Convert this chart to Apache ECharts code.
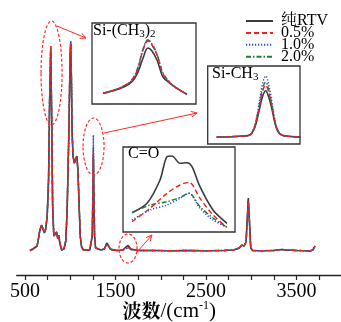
<!DOCTYPE html>
<html><head><meta charset="utf-8">
<script src="https://cdn.jsdelivr.net/npm/echarts@6/dist/echarts.min.js"></script>
<style>html,body{margin:0;padding:0;background:#fff}#c{width:341px;height:322px}</style>
</head><body><div id="c"></div>
<script>
// ---------- main spectrum (wavenumber cm-1 / intensity a.u.) ----------
const wn = [555,588,610,633,648,662,682,700,713,728,
  745,760,772,784,795,805,818,835,850,862,
  872,885,905,930,950,965,985,998,1005,1012,
  1020,1030,1045,1060,1072,1085,1098,1110,1125,1145,
  1180,1215,1232,1243,1250,1255,1260,1268,1280,1300,
  1340,1375,1390,1403,1413,1425,1440,1460,1520,1580,
  1600,1615,1628,1640,1655,1670,1690,1750,1900,2100,
  2300,2500,2700,2800,2840,2865,2895,2920,2942,2956,
  2967,2978,2994,3016,3100,3250,3330,3400,3500,3600,
  3650,3680,3705];
const pureRTV = [0.5,2,3,5,12,20,26,22,18,22,
  35,70,150,201,130,45,15,17,19,12,
  16,8,1,2,10,40,120,195,207,175,
  120,95,88,90,95,80,45,15,4,1,
  1,1,3,15,55,95,60,15,3,1,
  1,2,5,8,9,5,2,1,0.5,1,
  2,4,6,5.5,4,2,1,0.5,0.5,0.3,
  0.5,0.3,0.5,1,2,3,6,5,9,33,
  53,33,3,0.5,0.3,0.5,1.5,1,0.5,0.3,
  0,1,5];
const pct05 = [0.5,2,3,5,12,20,26,22,18,22,
  35,72,155,205,135,46,15,17,19,12,
  16,8,1,2,10,40,121,196,208,176,
  120,95,88,90,95,80,45,15,4,1,
  1,1,3,16,58,100,63,16,3,1,
  1,2,4.5,6.5,7,4,2,1,0.5,1,
  1.5,3,4,4,3,1.5,1,0.5,0.5,0.3,
  0.5,0.3,0.5,1,2,3,6,5,9,32,
  51,32,3,0.5,0.3,0.5,1.5,1,0.5,0.3,
  0,1,5];
const pct10 = [0.5,2,3,5,12,20,26,22,18,22,
  35,72,155,205,135,46,15,17,19,12,
  16,8,1,2,10,40,121,197,209,177,
  120,95,88,90,95,80,45,15,4,1,
  1,1,3,17,65,116,70,17,3,1,
  1,2,4.5,6.5,7,4,2,1,0.5,1,
  1.5,2.5,3,3.5,3,1.5,1,0.5,0.5,0.3,
  0.5,0.3,0.5,1,2,3,6,5,9,32,
  50,32,3,0.5,0.3,0.5,1.5,1,0.5,0.3,
  0,1,5];
const pct20 = [0.5,2,3,5,12,20,26,22,18,22,
  35,72,154,204,134,46,15,17,19,12,
  16,8,1,2,10,40,122,198,211,178,
  120,95,88,90,95,80,45,15,4,1,
  1,1,3,16,60,104,66,16,3,1,
  1,2,4.5,6.5,7,4,2,1,0.5,1,
  1.5,2.5,3,3,2.5,1.5,1,0.5,0.5,0.3,
  0.5,0.3,0.5,1,2,3,6,5,9,32,
  50,32,3,0.5,0.3,0.5,1.5,1,0.5,0.3,
  0,1,5];
const tickLabels = [500,1500,2500,3500];
const tickMarks = [500,750,1000,1250,1500,1750,2000,2250,2500,2750,3000,3250,3500,3750];

// ---------- inset: Si-(CH3)2 ----------
const sicWn = [745,755,765,774,780,785,790,794,799,802,805,812,819,829];
const sicPure = [1.7,4.3,7.7,13.3,23,36.7,47,44,35,26,18,11.7,6.7,0.7];
const sic05 = [1.7,4.5,8.5,15,27,45,54,50,40,30,21,12,6.5,0.7];
const sic10 = [1.7,4.5,8.5,15,27,45,55,50,40,30,21,12,6.5,0.7];
const sic20 = [1.7,4.6,8.7,15.5,28,46,55,51,41,31,22,12.5,6.8,0.7];

// ---------- inset: Si-CH3 ----------
const mWn = [1211,1225,1238,1244,1248,1251,1254,1257,1260,1263,1266,1269,1272,1276,1285,1296];
const mPure = [0,0.3,1,2,7,16,29,41,46.3,40,29,15,6,2,0.5,0];
const m05 = [0,0.3,1,2,7.5,18,32,46,52,45,32,16,6.5,2,0.5,0];
const m10 = [0,0.3,1,2,8,20,37,54,61,52,36,18,7,2,0.5,0];
const m20 = [0,0.3,1,2,8,19,34,49,55,47,33,17,7,2,0.5,0];

// ---------- inset: C=O ----------
const coWnPure = [1609,1624,1637,1644,1649,1657,1664,1669,1677,1690,1704];
const coPure = [19.3,28.7,52,75.3,76,68.7,69.3,65.3,45.3,22,8.7];
const coWn = [1609,1627,1644,1657,1666,1677,1690,1704];
const co05 = [10.3,23.7,38.7,47,49.7,33.7,17,4.7];
const co10 = [12,22,27,33.7,38.7,23.7,12,4.7];
const co20 = [19.3,27,30.3,34.7,38.7,25.3,14,4.7];

const names = ['纯RTV','0.5%','1.0%','2.0%'];
const styles = [
  {color:'#3a3a3a', width:1.6, type:'solid', z:2},
  {color:'#f21d1d', width:1.4, type:[5,3], z:5},
  {color:'#1f4fe0', width:1.5, type:[1.2,1.8], z:4},
  {color:'#1e7d32', width:1.4, type:[5,2,1.5,2], z:3}
];
const SERIF = "'Liberation Serif','Times New Roman','Noto Serif CJK SC','Noto Sans CJK SC',serif";
const CJK = "'Noto Serif CJK SC','Noto Sans CJK SC',serif";

function pairs(xs, ys){ return xs.map((x,i)=>[x, ys[i]]); }
function ser(i, data, axis, smooth){
  const s = styles[i];
  return {name:names[i], type:'line', data, xAxisIndex:axis, yAxisIndex:axis,
    symbol:'none', smooth: smooth, z:s.z, silent:true, animation:false,
    lineStyle:{color:s.color, width:s.width, type:s.type}, itemStyle:{color:s.color}};
}

const mainSets = [pureRTV, pct05, pct10, pct20];
const sicSets = [sicPure, sic05, sic10, sic20];
const mSets = [mPure, m05, m10, m20];
const coSets = [[coWnPure, coPure],[coWn, co05],[coWn, co10],[coWn, co20]];

const series = [];
mainSets.forEach((d,i)=>series.push(ser(i, pairs(wn,d), 0, false)));
sicSets.forEach((d,i)=>series.push(ser(i, pairs(sicWn,d), 1, 0.4)));
mSets.forEach((d,i)=>series.push(ser(i, pairs(mWn,d), 2, 0.4)));
coSets.forEach((d,i)=>series.push(ser(i, pairs(d[0],d[1]), 3, 0.3)));

const hid = {show:false};
const insetAxis = (min,max)=>({type:'value', min, max, show:false, splitLine:hid});
const subRich = {
  a:{fontFamily:SERIF, fontSize:16, fontWeight:'normal', lineHeight:18, color:'#000'},
  s:{fontFamily:SERIF, fontSize:11, fontWeight:'normal', lineHeight:2, verticalAlign:'bottom', color:'#000'}
};
const gridBase = {outerBoundsMode:'none', containLabel:false};
const insetGrid = o => Object.assign({show:true, borderColor:'#333', borderWidth:1.3, backgroundColor:'transparent'}, gridBase, o);

const chart = echarts.init(document.getElementById('c'), null, {renderer:'canvas'});
chart.setOption({
  animation:false,
  backgroundColor:'#fff',
  grid:[
    Object.assign({left:16.7, right:-0.8, top:20, bottom:47}, gridBase),
    insetGrid({left:92, top:23, width:104, height:81}),
    insetGrid({left:207.7, top:66, width:92.3, height:78}),
    insetGrid({left:123, top:147, width:112, height:85})
  ],
  xAxis:[
    {type:'value', gridIndex:0, min:408, max:4000,
      axisLine:{show:true, onZero:false, lineStyle:{color:'#222', width:1.3}},
      axisTick:{show:true, length:5, customValues:tickMarks, lineStyle:{color:'#222', width:1.2}},
      axisLabel:{customValues:tickLabels, margin:7, fontFamily:SERIF, fontSize:20, color:'#000', formatter:v=>String(v)},
      splitLine:hid,
      name:'{cn|波数}{t|/(cm}{sup|-1}{t|)}', nameLocation:'middle', nameGap:25, nameMoveOverlap:false,
      nameTextStyle:{padding:[0,20,0,0], rich:{
        cn:{fontFamily:CJK, fontSize:19, fontWeight:'bold', lineHeight:22, color:'#000'},
        t:{fontFamily:SERIF, fontSize:21, lineHeight:22, color:'#000'},
        sup:{fontFamily:SERIF, fontSize:12, lineHeight:11, verticalAlign:'top', color:'#000'}
      }}},
    Object.assign({gridIndex:1}, insetAxis(734,838)),
    Object.assign({gridIndex:2}, insetAxis(1202,1294.3)),
    Object.assign({gridIndex:3}, insetAxis(1600,1712))
  ],
  yAxis:[
    {type:'value', gridIndex:0, min:-24, max:231, show:false, splitLine:hid},
    Object.assign({gridIndex:1}, insetAxis(-9,72)),
    Object.assign({gridIndex:2}, insetAxis(-7,71)),
    Object.assign({gridIndex:3}, insetAxis(0,85))
  ],
  title:[
    {text:'{a|Si-(CH}{s|3}{a|)}{s|2}', left:93, top:22, padding:0, textStyle:{fontWeight:'normal', rich:subRich}},
    {text:'{a|Si-CH}{s|3}', left:212, top:65, padding:0, textStyle:{fontWeight:'normal', rich:subRich}},
    {text:'{a|C=O}', left:128, top:145, padding:0, textStyle:{fontWeight:'normal', rich:subRich}}
  ],
  legend:{
    data:names, orient:'vertical', left:245, top:13, padding:0,
    itemWidth:27, itemHeight:10, itemGap:-4.1, selectedMode:false,
    itemStyle:{opacity:0, borderWidth:0},
    textStyle:{fontFamily:SERIF, fontSize:16, lineHeight:12, color:'#000', padding:[0,0,0,3]}
  },
  series
});

// ---------- annotation ellipses and arrows, anchored in data space ----------
const ringCenters = [[793,178],[1257,104.5],[1638,2.5]];
const ringRadii = [[10.5,52],[10.5,28.5],[9,14.5]];
const arrowFrom = [[853,225],[1373,118],[1738,-1]];
const arrowTo = [[1174,213],[2401,138],[1903,16]];
const P = p => chart.convertToPixel({xAxisIndex:0, yAxisIndex:0}, p);
const RED = '#ff2a2a';
const graphics = [];
ringCenters.forEach((c,i)=>{
  const p = P(c);
  graphics.push({type:'ellipse', shape:{cx:p[0], cy:p[1], rx:ringRadii[i][0], ry:ringRadii[i][1]},
    style:{fill:'none', stroke:RED, lineWidth:1.2, lineDash:[3,2]}, z:10, silent:true});
});
arrowFrom.forEach((f,i)=>{
  const a = P(f), b = P(arrowTo[i]);
  const ang = Math.atan2(b[1]-a[1], b[0]-a[0]);
  const L = 6.5, s = 0.45;
  const h1 = [b[0]-L*Math.cos(ang-s), b[1]-L*Math.sin(ang-s)];
  const h2 = [b[0]-L*Math.cos(ang+s), b[1]-L*Math.sin(ang+s)];
  graphics.push({type:'line', shape:{x1:a[0], y1:a[1], x2:b[0], y2:b[1]}, style:{stroke:RED, lineWidth:1}, z:10, silent:true});
  graphics.push({type:'polyline', shape:{points:[h1,b,h2]}, style:{stroke:RED, lineWidth:1, fill:'none'}, z:10, silent:true});
});
chart.setOption({graphic:graphics});
</script></body></html>
